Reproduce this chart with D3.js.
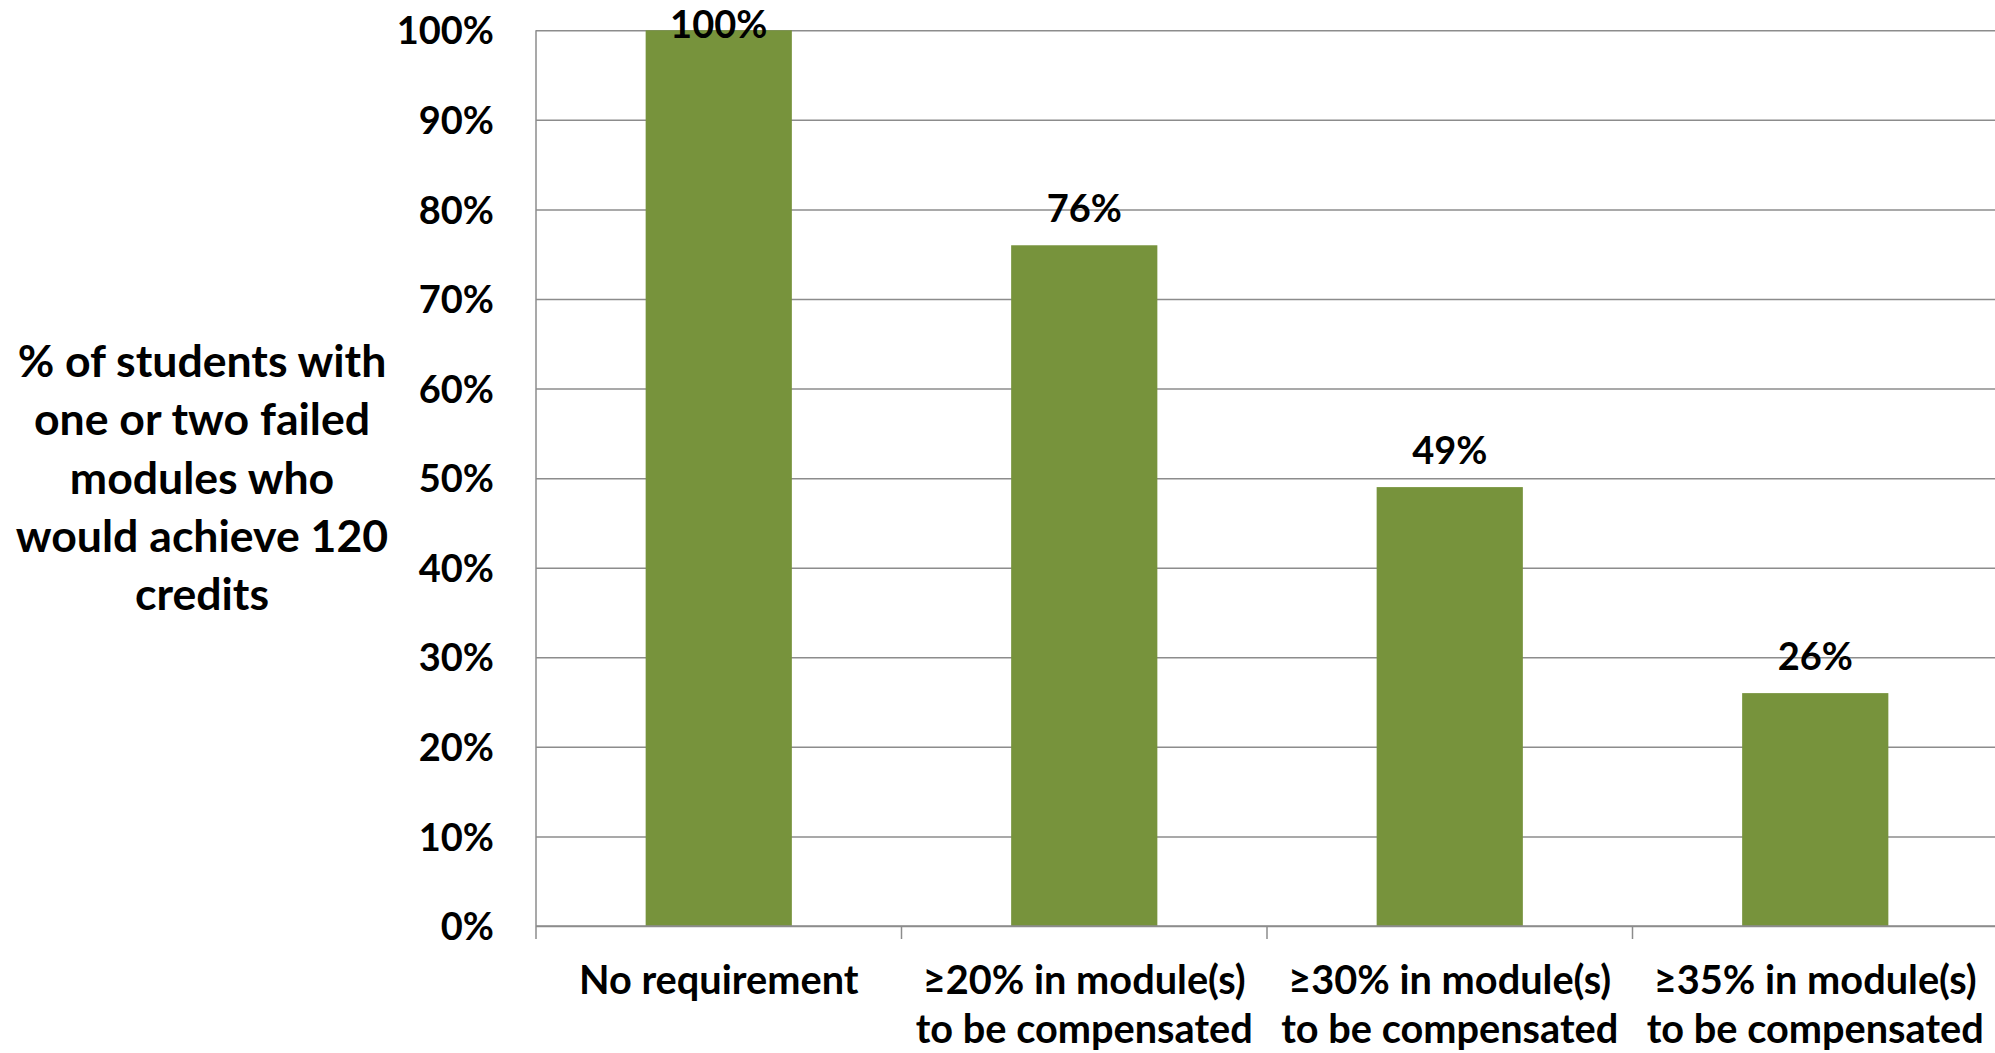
<!DOCTYPE html>
<html>
<head>
<meta charset="utf-8">
<script src="https://cdn.jsdelivr.net/npm/d3@7"></script>
<style>
  html, body { margin: 0; padding: 0; background: #ffffff; }
  svg text { font-family: Lato, "Open Sans", sans-serif; font-weight: 700; fill: #000000; }
</style>
</head>
<body>
<svg id="chart"></svg>
<script>
// chart data
const catLines   = [ ["No requirement"],
                     ["\u226520% in module(s)", "to be compensated"],
                     ["\u226530% in module(s)", "to be compensated"],
                     ["\u226535% in module(s)", "to be compensated"] ] ;
const categories = catLines.map(l => l.join(" ")) ;
const values     = [1.00, 0.76, 0.49, 0.26] ;
const yTicks     = [0, 0.1, 0.2, 0.3, 0.4, 0.5, 0.6, 0.7, 0.8, 0.9, 1.0] ;
const yTitle     = ["% of students with", "one or two failed", "modules who", "would achieve 120", "credits"] ;

const W = 1995, H = 1053 ;
const plotL = 536, plotR = 1998, plotT = 30.3, plotB = 926 ;
const barColor  = "#77933C" ;
const lineColor = "#8C8C8C" ;

const svg = d3.select("#chart").attr("width", W).attr("height", H) ;

const x = d3.scaleBand()
            .domain(categories)
            .range([plotL, plotR])
            .paddingInner(0.6)
            .paddingOuter(0.3) ;
const y = d3.scaleLinear().domain([0, 1]).range([plotB, plotT]) ;

// gridlines + y tick labels
const yAxis = svg.append("g")
    .attr("transform", "translate(" + plotL + ",0)")
    .call(d3.axisLeft(y).tickValues(yTicks).tickFormat(d3.format(".0%"))
            .tickSize(-(plotR - plotL)).tickPadding(42)) ;
yAxis.select(".domain").remove() ;
yAxis.selectAll(".tick line").attr("stroke", lineColor).attr("stroke-width", 1.5) ;
yAxis.selectAll(".tick text")
    .attr("font-size", 38).attr("dy", "0.36em")
    .style("font-family", "Lato, sans-serif").style("font-weight", 700).attr("fill", "#000") ;

// bars
svg.append("g").selectAll("rect")
    .data(values)
    .enter()
        .append("rect")
            .attr("x", (d, i) => x(categories[i]))
            .attr("y", d => y(d))
            .attr("width", x.bandwidth())
            .attr("height", d => plotB - y(d))
            .attr("fill", barColor) ;

// axis lines (left + bottom) and category ticks
const axG = svg.append("g").attr("stroke", lineColor).attr("stroke-width", 1.5) ;
axG.append("line").attr("x1", plotL).attr("x2", plotL).attr("y1", plotT).attr("y2", plotB + 13) ;
axG.append("line").attr("x1", plotL).attr("x2", plotR).attr("y1", plotB).attr("y2", plotB) ;
axG.selectAll(".ctick")
    .data(d3.range(1, categories.length + 1))
    .enter()
        .append("line")
            .attr("class", "ctick")
            .attr("x1", i => plotL + i * x.step())
            .attr("x2", i => plotL + i * x.step())
            .attr("y1", plotB).attr("y2", plotB + 13) ;

// value labels (clamped so the 100% label stays inside the picture)
svg.append("g").selectAll("text")
    .data(values)
    .enter()
        .append("text")
            .attr("x", (d, i) => x(categories[i]) + x.bandwidth() / 2)
            .attr("y", d => Math.max(y(d) - 23, 38))
            .attr("text-anchor", "middle")
            .attr("font-size", 38)
            .text(d => d3.format(".0%")(d)) ;

// category labels
const catG = svg.append("g").selectAll("text")
    .data(catLines)
    .enter()
        .append("text")
            .attr("text-anchor", "middle")
            .attr("font-size", 39.7)
            .attr("transform", (d, i) => "translate(" + (x(categories[i]) + x.bandwidth() / 2) + ",994)") ;
catG.selectAll("tspan")
    .data(d => d)
    .enter()
        .append("tspan")
            .attr("x", 0)
            .attr("y", (d, j) => j * 49)
            .text(d => d) ;

// y axis title
svg.append("text")
    .attr("text-anchor", "middle")
    .attr("font-size", 44.6)
    .attr("transform", "translate(202,377)")
    .selectAll("tspan")
    .data(yTitle)
    .enter()
        .append("tspan")
            .attr("x", 0)
            .attr("y", (d, j) => j * 58.3)
            .text(d => d) ;
</script>
</body>
</html>
